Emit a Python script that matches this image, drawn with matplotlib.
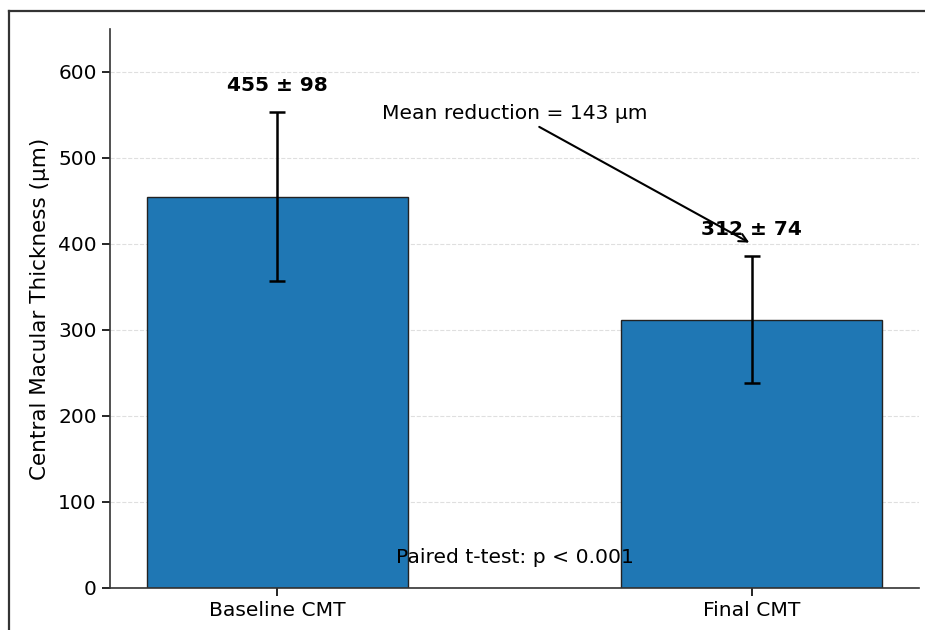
import matplotlib
matplotlib.use("Agg")
import matplotlib.pyplot as plt
from matplotlib.lines import Line2D

# data
groups = ["Baseline CMT", "Final CMT"]
means = [455, 312]
sds = [98, 74]
reduction = 143
p_text = "Paired t-test: p < 0.001"

fig = plt.figure(figsize=(9.25, 6.3), dpi=100)
ax = fig.add_axes([0.119, 0.0667, 0.8745, 0.8873])

x = list(range(len(groups)))
ax.bar(x, means, width=0.55, color="#1f77b4", edgecolor="#222222", linewidth=1.0,
       yerr=sds, capsize=6, error_kw=dict(elinewidth=1.8, capthick=1.8, ecolor="black"))

# value labels above error bars
for xi, m, s in zip(x, means, sds):
    ax.text(xi, m + s + 20, f"{m} ± {s}", ha="center", va="bottom",
            fontsize=14.5, fontweight="bold")

ax.annotate(f"Mean reduction = {reduction} µm", xy=(1, means[1] + sds[1] + 14),
            xytext=(0.5, 552), ha="center", va="center", fontsize=14.6,
            arrowprops=dict(arrowstyle="->", color="black", lw=1.5))

ax.text(0.5, 36, p_text, ha="center", va="center", fontsize=14.6)

ax.set_xticks(x)
ax.set_xticklabels(groups, fontsize=14.6)
ax.set_ylabel("Central Macular Thickness (µm)", fontsize=15.5, labelpad=6)
ax.set_ylim(0, 650)
ax.set_yticks(range(0, 700, 100))
ax.tick_params(axis="y", labelsize=14.5, length=6, width=1.2)
ax.tick_params(axis="x", length=6, width=1.2)
ax.grid(axis="y", linestyle="--", alpha=0.4, linewidth=0.8)
ax.set_axisbelow(True)
ax.spines["top"].set_visible(False)
ax.spines["right"].set_visible(False)
for side in ["left", "bottom"]:
    ax.spines[side].set_linewidth(1.2)
    ax.spines[side].set_color("#333333")

# screenshot frame (top and left edges)
fig.add_artist(Line2D([0.0097, 1.0], [0.9825, 0.9825], transform=fig.transFigure,
                      color="#333333", linewidth=1.6))
fig.add_artist(Line2D([0.0097, 0.0097], [0.0, 0.9825], transform=fig.transFigure,
                      color="#333333", linewidth=1.6))

fig.savefig("out.png", dpi=100)
